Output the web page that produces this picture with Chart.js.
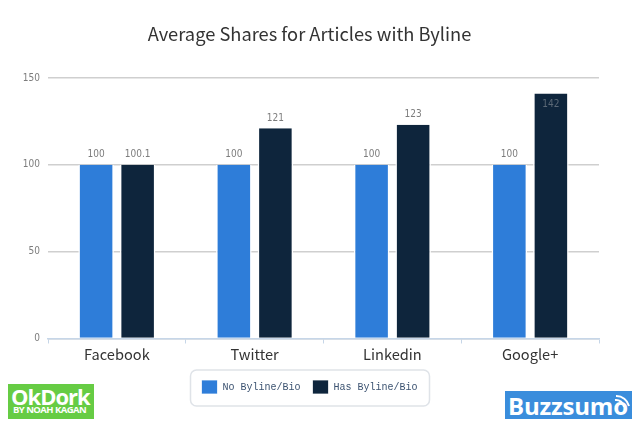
<!DOCTYPE html>
<html><head><meta charset="utf-8">
<script src="https://cdn.jsdelivr.net/npm/chart.js@4"></script>
<style>
html,body{margin:0;padding:0;background:#fff;width:640px;height:427px;overflow:hidden}
#c{position:absolute;left:0;top:0}
.logo{position:absolute;color:#fff;font-family:"Open Sans",sans-serif;font-weight:700;overflow:hidden}
#ok{left:8px;top:384px;width:86px;height:35px;background:#66cc44}
#ok .a{position:absolute;left:3px;top:-1px;font-size:22px;line-height:26px;letter-spacing:-1px}
#ok .b{position:absolute;left:5px;top:20px;font-size:9.5px;line-height:12px;letter-spacing:-.55px;white-space:nowrap}
#bz{left:505px;top:391px;width:127px;height:28px;background:#3a8ddc}
#bz .a{position:absolute;left:3px;top:0;font-size:24px;line-height:29px;letter-spacing:-.2px}
#bz svg{position:absolute;left:102px;top:2px}
</style></head><body>
<canvas id="c" width="640" height="427"></canvas>
<div class="logo" id="ok"><span class="a">OkDork</span><span class="b">BY NOAH KAGAN</span></div>
<div class="logo" id="bz"><span class="a">Buzzsumo</span>
<svg width="24" height="22" viewBox="0 0 24 22" fill="none" stroke="#fff" stroke-width="2"><path d="M8 7a8 8 0 0 1 9 7"/><path d="M9 3a13 13 0 0 1 13 10"/></svg></div>
<script>
const categories = ['Facebook','Twitter','Linkedin','Google+'];
const seriesNames = ['No Byline/Bio','Has Byline/Bio'];
const noByline = [100,100,100,100];
const hasByline = [100.1,121,123,141];
const noBylineLabels = ['100','100','100','100'];
const hasBylineLabels = ['100.1','121','123','142'];
const yTicks = [0,50,100,150];
const narrow = '"DejaVu Sans Condensed","Liberation Mono",monospace';

const valueLabels = {
  id:'valueLabels',
  afterDatasetsDraw(ch){
    const c=ch.ctx; c.save();
    c.font='10px '+narrow;
    c.textAlign='center'; c.textBaseline='bottom';
    [noBylineLabels,hasBylineLabels].forEach((arr,d)=>{
      ch.getDatasetMeta(d).data.forEach((el,i)=>{
        const inside = arr[i]==='142';
        c.fillStyle = inside ? '#5b6876' : '#7d7d7d';
        c.fillText(arr[i], el.x, inside ? el.y+16 : el.y-5);
      });
    });
    c.restore();
  }
};
const legendBox = {
  id:'legendBox',
  beforeDraw(ch){
    const c=ch.ctx; c.save();
    c.strokeStyle='#dfe3e8'; c.lineWidth=1.5;
    c.beginPath(); c.roundRect(190.5,370,239,36,6); c.stroke();
    c.restore();
  }
};
new Chart(document.getElementById('c'),{
  type:'bar',
  data:{labels:categories,datasets:[
    {label:seriesNames[0],data:noByline,backgroundColor:'#2e7dd9',borderColor:'#ffffff',borderWidth:{left:1.5,right:1.5,top:0,bottom:0},borderSkipped:false},
    {label:seriesNames[1],data:hasByline,backgroundColor:'#0e253c',borderColor:'#ffffff',borderWidth:{left:1.5,right:1.5,top:0,bottom:0},borderSkipped:false}
  ]},
  plugins:[legendBox,valueLabels],
  options:{
    responsive:false,animation:false,devicePixelRatio:1,
    categoryPercentage:0.603,barPercentage:0.855,
    layout:{padding:{left:20,right:41,top:12,bottom:23}},
    scales:{
      x:{
        afterFit(s){s.height+=3;},
        grid:{drawOnChartArea:false,drawTicks:true,tickLength:5,color:'#c6d6e8',tickColor:'#c6d6e8'},
        border:{color:'#c6d6e8',width:1.5},
        ticks:{color:'#333',font:{family:'"Noto Sans CJK JP"',size:14.6},padding:2,maxRotation:0}
      },
      y:{
        min:0,max:150,afterFit(s){s.width=28;},
        afterBuildTicks(s){s.ticks=yTicks.map(v=>({value:v}));},
        grid:{color:'#cfcfcf',lineWidth:1.5,drawTicks:false},
        border:{display:false},
        ticks:{color:'#7d7d7d',font:{family:narrow,size:10},padding:8}
      }
    },
    plugins:{
      title:{display:true,text:'Average Shares for Articles with Byline',color:'#333',
        font:{family:'"Noto Sans CJK JP"',size:18.3,weight:'normal'},padding:{top:11,bottom:33}},
      legend:{position:'bottom',
        labels:{boxWidth:16,boxHeight:14,color:'#3b5270',padding:12,font:{family:'"Liberation Mono",monospace',size:10}}},
      tooltip:{enabled:false}
    }
  }
});
</script></body></html>
